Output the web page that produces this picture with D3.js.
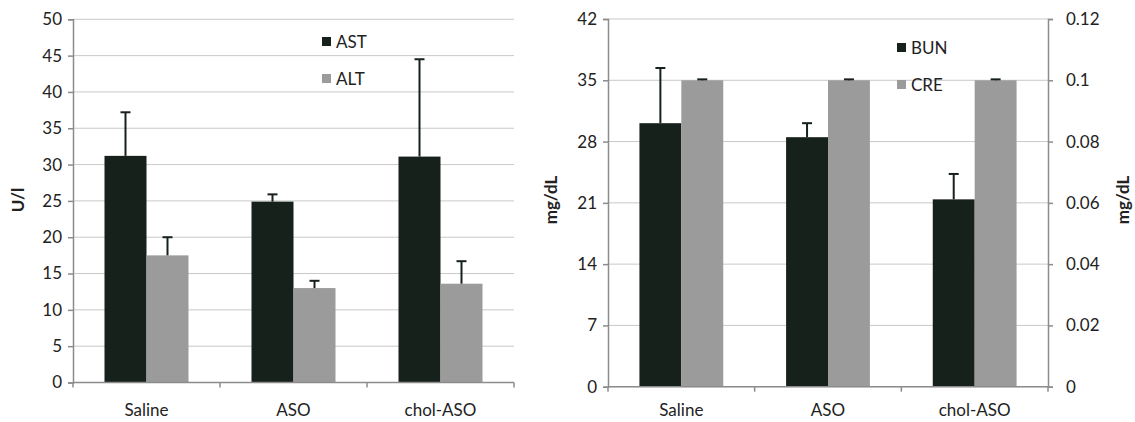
<!DOCTYPE html>
<html>
<head>
<meta charset="UTF-8">
<script src="https://d3js.org/d3.v7.min.js"></script>
<style>
  body { margin: 0; background: #fff; }
  text { font-family: Lato, "Open Sans", sans-serif; fill: #222; }
</style>
</head>
<body>
<script>
// categories shared by both panels
var groups = ["Saline", "ASO", "chol-ASO"];

// left panel: liver enzymes (U/l)
var astMean = [31.2, 24.9, 31.1];
var astErr = [6.0, 1.0, 13.4];
var altMean = [17.5, 13.0, 13.6];
var altErr = [2.5, 1.0, 3.1];
var leftTicks = [0, 5, 10, 15, 20, 25, 30, 35, 40, 45, 50];

// right panel: kidney markers (mg/dL)
var bunMean = [30.1, 28.5, 21.4];
var bunErr = [6.3, 1.6, 2.9];
var creMean = [0.1, 0.1, 0.1];
var creErr = [0.0003, 0.0003, 0.0003];
var bunTicks = [0, 7, 14, 21, 28, 35, 42];
var creTicks = [0, 0.02, 0.04, 0.06, 0.08, 0.1, 0.12];
var creTickLabels = ["0", "0.02", "0.04", "0.06", "0.08", "0.1", "0.12"];

var dark = "#17211c", grey = "#9b9b9b", axisCol = "#8c8c8c", gridCol = "#c9c9c9";

var svg = d3.select("body").append("svg")
    .attr("width", 1135)
    .attr("height", 422);

function panel(opt) {
    var x0 = d3.scaleBand().domain(groups).range([opt.left, opt.right]);
    var x1 = d3.scaleBand().domain([0, 1]).range([0, x0.bandwidth()]).paddingOuter(0.75);
    var y = d3.scaleLinear().domain([0, opt.max]).range([opt.bottom, opt.top]);

    var g = svg.append("g");

    // gridlines
    g.selectAll(".grid").data(opt.ticks).enter().append("line")
        .attr("x1", opt.left).attr("x2", opt.right)
        .attr("y1", function (d) { return y(d); })
        .attr("y2", function (d) { return y(d); })
        .attr("stroke", gridCol).attr("stroke-width", 1);

    // series
    opt.series.forEach(function (s, si) {
        g.selectAll(".bar" + si).data(groups).enter().append("rect")
            .attr("x", function (d) { return x0(d) + x1(si); })
            .attr("width", x1.bandwidth())
            .attr("y", function (d, i) { return s.y(s.mean[i]); })
            .attr("height", function (d, i) { return opt.bottom - s.y(s.mean[i]); })
            .attr("fill", s.color);

        // error bars (upper only)
        var cx = function (d) { return x0(d) + x1(si) + x1.bandwidth() / 2; };
        g.selectAll(".err" + si).data(groups).enter().append("line")
            .attr("x1", cx).attr("x2", cx)
            .attr("y1", function (d, i) { return s.y(s.mean[i]); })
            .attr("y2", function (d, i) { return s.y(s.mean[i] + s.err[i]); })
            .attr("stroke", dark).attr("stroke-width", 2);
        g.selectAll(".cap" + si).data(groups).enter().append("line")
            .attr("x1", function (d) { return cx(d) - 5; })
            .attr("x2", function (d) { return cx(d) + 5; })
            .attr("y1", function (d, i) { return s.y(s.mean[i] + s.err[i]); })
            .attr("y2", function (d, i) { return s.y(s.mean[i] + s.err[i]); })
            .attr("stroke", dark).attr("stroke-width", 2);
    });

    // left axis
    var yAxis = d3.axisLeft(y).tickValues(opt.ticks).tickSize(5).tickPadding(6);
    var ya = g.append("g").attr("transform", "translate(" + opt.left + ",0)").call(yAxis);
    ya.select(".domain").attr("stroke", axisCol).attr("stroke-width", 1.5);
    ya.selectAll(".tick line").attr("stroke", axisCol).attr("stroke-width", 1.5);
    ya.selectAll("text").style("font-size", "17px").attr("fill", "#222");

    // x axis with ticks at band boundaries
    var xa = g.append("g");
    xa.append("line")
        .attr("x1", opt.left).attr("x2", opt.right)
        .attr("y1", opt.bottom).attr("y2", opt.bottom)
        .attr("stroke", axisCol).attr("stroke-width", 1.5);
    var bounds = groups.map(function (d) { return x0(d); }).concat([opt.right]);
    xa.selectAll(".xt").data(bounds).enter().append("line")
        .attr("x1", function (d) { return d; }).attr("x2", function (d) { return d; })
        .attr("y1", opt.bottom).attr("y2", opt.bottom + 5)
        .attr("stroke", axisCol).attr("stroke-width", 1.5);
    xa.selectAll(".xl").data(groups).enter().append("text")
        .attr("x", function (d) { return x0(d) + x0.bandwidth() / 2; })
        .attr("y", 416)
        .attr("text-anchor", "middle")
        .style("font-size", "17px")
        .text(function (d) { return d; });

    // y label
    g.append("text")
        .attr("transform", "translate(" + opt.labelX + "," + 200 + ") rotate(-90)")
        .attr("text-anchor", "middle")
        .style("font-size", "17px")
        .style("font-weight", "bold")
        .text(opt.label);

    // legend
    opt.series.forEach(function (s, si) {
        var ly = opt.legendY + si * 37;
        g.append("rect")
            .attr("x", opt.legendX).attr("y", ly - 5)
            .attr("width", 9).attr("height", 9)
            .attr("fill", s.color);
        g.append("text")
            .attr("x", opt.legendX + 14).attr("y", ly + 6)
            .style("font-size", "17px")
            .text(s.name);
    });

    return { g: g, y: y };
}

// left panel
var yL = d3.scaleLinear().domain([0, 50]).range([382.5, 19.3]);
panel({
    left: 73, right: 514, top: 19.3, bottom: 382.5, max: 50,
    ticks: leftTicks, label: "U/l", labelX: 24,
    legendX: 322, legendY: 42,
    series: [
        { name: "AST", mean: astMean, err: astErr, color: dark, y: yL },
        { name: "ALT", mean: altMean, err: altErr, color: grey, y: yL }
    ]
});

// right panel: two y scales
var yB = d3.scaleLinear().domain([0, 42]).range([386.7, 19]);
var yC = d3.scaleLinear().domain([0, 0.12]).range([386.7, 19]);
var right = panel({
    left: 608, right: 1048, top: 19, bottom: 386.7, max: 42,
    ticks: bunTicks, label: "mg/dL", labelX: 557,
    legendX: 897, legendY: 48,
    series: [
        { name: "BUN", mean: bunMean, err: bunErr, color: dark, y: yB },
        { name: "CRE", mean: creMean, err: creErr, color: grey, y: yC }
    ]
});

// secondary axis on the right
var yAxisR = d3.axisRight(yC).tickValues(creTicks).tickSize(5).tickPadding(13)
    .tickFormat(function (d, i) { return creTickLabels[i]; });
var yr = right.g.append("g").attr("transform", "translate(1048,0)").call(yAxisR);
yr.select(".domain").attr("stroke", axisCol).attr("stroke-width", 1.5);
yr.selectAll(".tick line").attr("stroke", axisCol).attr("stroke-width", 1.5);
yr.selectAll("text").style("font-size", "17px").attr("fill", "#222");

right.g.append("text")
    .attr("transform", "translate(1129,200) rotate(-90)")
    .attr("text-anchor", "middle")
    .style("font-size", "17px")
    .style("font-weight", "bold")
    .text("mg/dL");
</script>
</body>
</html>
